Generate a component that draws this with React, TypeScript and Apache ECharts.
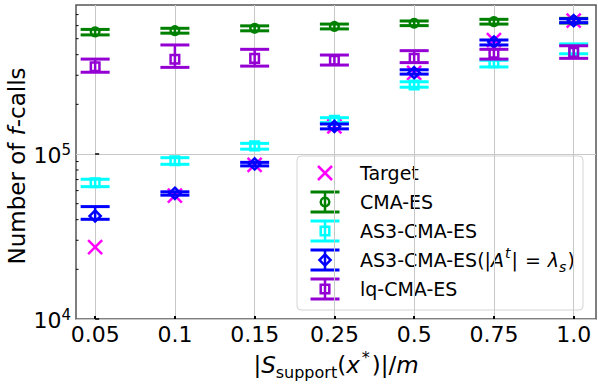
import React, { useEffect, useRef } from 'react';
import * as echarts from 'echarts';

const xLabels = ['0.05', '0.1', '0.15', '0.25', '0.5', '0.75', '1.0'];

const targetVals = [2.73e4, 5.6e4, 8.6e4, 1.47e5, 3.1e5, 4.9e5, 6.43e5];

const cmaMean = [5.5e5, 5.59e5, 5.78e5, 5.93e5, 6.2e5, 6.34e5, 6.43e5];
const cmaLow = [5.27e5, 5.4e5, 5.58e5, 5.73e5, 6.0e5, 6.13e5, 6.22e5];
const cmaHigh = [5.69e5, 5.78e5, 5.98e5, 6.13e5, 6.4e5, 6.55e5, 6.64e5];

const as3Mean = [6.7e4, 9.1e4, 1.12e5, 1.6e5, 2.62e5, 3.57e5, 4.2e5];
const as3Low = [6.34e4, 8.66e4, 1.07e5, 1.55e5, 2.54e5, 3.37e5, 4.05e5];
const as3High = [7.03e4, 9.5e4, 1.16e5, 1.66e5, 2.74e5, 3.7e5, 4.65e5];

const as3LamMean = [4.21e4, 5.78e4, 8.7e4, 1.47e5, 3.11e5, 4.77e5, 6.43e5];
const as3LamLow = [4.02e4, 5.63e4, 8.47e4, 1.42e5, 3.05e5, 4.58e5, 6.25e5];
const as3LamHigh = [4.8e4, 5.9e4, 8.9e4, 1.52e5, 3.24e5, 4.91e5, 6.6e5];

const lqMean = [3.38e5, 3.75e5, 3.8e5, 3.7e5, 3.8e5, 4.08e5, 4.13e5];
const lqLow = [3.13e5, 3.35e5, 3.41e5, 3.46e5, 3.58e5, 3.76e5, 3.8e5];
const lqHigh = [3.76e5, 4.58e5, 4.31e5, 3.98e5, 4.23e5, 4.31e5, 4.53e5];

const yTickValues = [1e4, 1e5];
const yMinorTicks = [2e4, 3e4, 4e4, 5e4, 6e4, 7e4, 8e4, 9e4, 2e5, 3e5, 4e5, 5e5, 6e5, 7e5];

const FONT = 'DejaVu Sans';
const X_MIN = -0.24;
const X_MAX = 6.28;

const C_TARGET = '#ff00ff';
const C_CMA = '#008000';
const C_AS3 = '#00ffff';
const C_AS3L = '#0000ff';
const C_LQ = '#9400d3';

function markerShape(kind: string, cx: number, cy: number, color: string): any {
  const style = { fill: 'none', stroke: color, lineWidth: 2.5 };
  if (kind === 'circle') return { type: 'circle', shape: { cx, cy, r: 4.3 }, style };
  if (kind === 'square') return { type: 'rect', shape: { x: cx - 4.3, y: cy - 4.3, width: 8.6, height: 8.6 }, style };
  if (kind === 'diamond') {
    const d = 5.6;
    return { type: 'polygon', shape: { points: [[cx, cy - d], [cx + d, cy], [cx, cy + d], [cx - d, cy]] }, style };
  }
  const a = 7;
  return {
    type: 'group',
    children: [
      { type: 'line', shape: { x1: cx - a, y1: cy - a, x2: cx + a, y2: cy + a }, style: { stroke: color, lineWidth: 2.5 } },
      { type: 'line', shape: { x1: cx - a, y1: cy + a, x2: cx + a, y2: cy - a }, style: { stroke: color, lineWidth: 2.5 } },
    ],
  };
}

function errBarShapes(cx: number, yc: number, ylo: number, yhi: number, color: string, marker: string): any[] {
  const cw = 14.5;
  const ls = { stroke: color, lineWidth: 3 };
  return [
    { type: 'line', shape: { x1: cx, y1: ylo, x2: cx, y2: yhi }, style: { stroke: color, lineWidth: 2.5 } },
    { type: 'line', shape: { x1: cx - cw, y1: ylo, x2: cx + cw, y2: ylo }, style: ls },
    { type: 'line', shape: { x1: cx - cw, y1: yhi, x2: cx + cw, y2: yhi }, style: ls },
    markerShape(marker, cx, yc, color),
  ];
}

function errSeries(name: string, mean: number[], low: number[], high: number[], color: string, marker: string, z: number): any {
  return {
    type: 'custom',
    name,
    z,
    data: mean.map((m, i) => [i, m, low[i], high[i]]),
    renderItem: (params: any, api: any) => {
      const x = api.value(0);
      const c = api.coord([x, api.value(1)]);
      const lo = api.coord([x, api.value(2)]);
      const hi = api.coord([x, api.value(3)]);
      return { type: 'group', children: errBarShapes(c[0], c[1], lo[1], hi[1], color, marker) };
    },
  };
}

function legendGraphic(): any {
  const bx = 297, by = 156, bw = 286, bh = 154;
  const ix = 325, tx = 360;
  const rows = [173, 202, 231, 260, 289];
  const txt = (y: number, text: string, rich?: any) => ({
    type: 'text',
    x: tx,
    y,
    style: {
      text,
      fill: '#000',
      fontFamily: FONT,
      fontSize: 19,
      verticalAlign: 'middle',
      align: 'left',
      rich,
    },
  });
  const icon = (y: number, color: string, marker: string) => ({
    type: 'group',
    children: errBarShapes(ix, y, y + 10, y - 10, color, marker),
  });
  const base = { fontFamily: FONT, fontSize: 19, fill: '#000', verticalAlign: 'middle' };
  const rich = {
    n: { ...base, lineHeight: 28 },
    eq: { ...base, lineHeight: 28, padding: [0, 1, 0, 1] },
    i: { ...base, fontStyle: 'italic', lineHeight: 28 },
    sp: { fontFamily: FONT, fontSize: 14, fontStyle: 'italic', fill: '#000', verticalAlign: 'top', lineHeight: 14, padding: [0, 1, 0, 1] },
    sb: { fontFamily: FONT, fontSize: 14, fontStyle: 'italic', fill: '#000', verticalAlign: 'bottom', lineHeight: 14, padding: [0, 1, 0, 0] },
  };
  return {
    type: 'group',
    z: 100,
    children: [
      {
        type: 'rect',
        shape: { x: bx, y: by, width: bw, height: bh, r: 4 },
        style: { fill: 'rgba(255,255,255,0.8)', stroke: '#d4d4d4', lineWidth: 1 },
      },
      { type: 'group', children: [markerShape('x', ix, rows[0], C_TARGET)] },
      icon(rows[1], C_CMA, 'circle'),
      icon(rows[2], C_AS3, 'square'),
      icon(rows[3], C_AS3L, 'diamond'),
      icon(rows[4], C_LQ, 'square'),
      txt(rows[0], 'Target'),
      txt(rows[1], 'CMA-ES'),
      txt(rows[2], 'AS3-CMA-ES'),
      txt(rows[3], '{n|AS3-CMA-ES(|}{i|A}{sp|t}{n||}{eq| = }{i|λ}{sb|s}{n|)}', rich),
      txt(rows[4], 'lq-CMA-ES'),
    ],
  };
}

function yTitleGraphic(): any {
  return {
    type: 'text',
    x: 17,
    y: 166,
    rotation: Math.PI / 2,
    z: 100,
    style: {
      text: '{n|Number of }{i|f}{n|-calls}',
      align: 'center',
      verticalAlign: 'middle',
      fill: '#000',
      fontFamily: FONT,
      fontSize: 23,
      rich: {
        n: { fontFamily: FONT, fontSize: 23, fill: '#000', lineHeight: 24 },
        i: { fontFamily: FONT, fontSize: 23, fill: '#000', fontStyle: 'italic', lineHeight: 24 },
      },
    },
  };
}

export default function App() {
  const ref = useRef<HTMLDivElement>(null);
  useEffect(() => {
    document.body.style.margin = '0';
    const chart = echarts.init(ref.current as HTMLDivElement, null, { renderer: 'svg' });
    const option: any = {
      animation: false,
      backgroundColor: '#ffffff',
      textStyle: { fontFamily: FONT },
      grid: {
        left: 76,
        right: 2,
        top: 5,
        bottom: 67,
        containLabel: false,
        outerBoundsMode: 'none',
        show: true,
        borderColor: '#555555',
        borderWidth: 1.5,
        backgroundColor: 'transparent',
      },
      xAxis: {
        type: 'value',
        min: X_MIN,
        max: X_MAX,
        name: '|{i|S}{sub|support}{n|(}{i|x}{sup|*}{n|)|/}{i|m}',
        nameLocation: 'middle',
        nameGap: 30,
        nameTextStyle: {
          fontFamily: FONT,
          fontSize: 23,
          color: '#000',
          rich: {
            n: { fontFamily: FONT, fontSize: 23, color: '#000', lineHeight: 31, verticalAlign: 'middle' },
            i: { fontFamily: FONT, fontSize: 23, color: '#000', fontStyle: 'italic', lineHeight: 31, verticalAlign: 'middle' },
            sub: { fontFamily: FONT, fontSize: 16, color: '#000', lineHeight: 16, verticalAlign: 'bottom' },
            sup: { fontFamily: FONT, fontSize: 16, color: '#000', lineHeight: 16, verticalAlign: 'top', padding: [0, 2, 0, 2] },
          },
        },
        axisLine: { show: false },
        axisTick: {
          show: true,
          inside: true,
          length: 3,
          lineStyle: { color: '#000', width: 2 },
          customValues: xLabels.map((_, i) => i),
        },
        axisLabel: {
          customValues: xLabels.map((_, i) => i),
          formatter: (v: number) => xLabels[Math.round(v)] ?? '',
          fontFamily: FONT,
          fontSize: 22,
          color: '#000',
          margin: 4,
        },
        splitLine: {
          show: true,
          lineStyle: { color: '#c8c8c8', width: 1 },
        },
      },
      yAxis: {
        type: 'log',
        logBase: 10,
        min: 1e4,
        max: 8e5,
        axisLine: { show: false },
        axisTick: {
          show: true,
          inside: true,
          length: 4,
          lineStyle: { color: '#000', width: 1.5 },
          customValues: yTickValues,
        },
        axisLabel: {
          customValues: yTickValues,
          formatter: (v: number) => `{b|10}{s|${Math.round(Math.log10(v))}}`,
          margin: 5,
          rich: {
            b: { fontFamily: FONT, fontSize: 22, color: '#000', lineHeight: 24, verticalAlign: 'bottom' },
            s: { fontFamily: FONT, fontSize: 15, color: '#000', lineHeight: 15, verticalAlign: 'top' },
          },
        },
        splitLine: {
          show: true,
          lineStyle: { color: '#c8c8c8', width: 1 },
        },
        minorTick: { show: false },
      },
      graphic: [yTitleGraphic(), legendGraphic()],
      series: [
        {
          type: 'custom',
          name: 'minorTicks',
          silent: true,
          z: 1,
          data: yMinorTicks.map((v) => [X_MIN, v]),
          renderItem: (params: any, api: any) => {
            const p = api.coord([X_MIN, api.value(1)]);
            return {
              type: 'line',
              shape: { x1: p[0], y1: p[1], x2: p[0] + 2.5, y2: p[1] },
              style: { stroke: '#000', lineWidth: 1 },
            };
          },
        },
        {
          type: 'custom',
          name: 'Target',
          z: 2,
          data: targetVals.map((v, i) => [i, v]),
          renderItem: (params: any, api: any) => {
            const c = api.coord([api.value(0), api.value(1)]);
            return markerShape('x', c[0], c[1], C_TARGET);
          },
        },
        errSeries('CMA-ES', cmaMean, cmaLow, cmaHigh, C_CMA, 'circle', 3),
        errSeries('AS3-CMA-ES', as3Mean, as3Low, as3High, C_AS3, 'square', 4),
        errSeries('AS3-CMA-ES(|A^t|=λ_s)', as3LamMean, as3LamLow, as3LamHigh, C_AS3L, 'diamond', 5),
        errSeries('lq-CMA-ES', lqMean, lqLow, lqHigh, C_LQ, 'square', 6),
      ],
    };
    chart.setOption(option);
    return () => chart.dispose();
  }, []);
  return <div ref={ref} style={{ width: 598, height: 386 }} />;
}
